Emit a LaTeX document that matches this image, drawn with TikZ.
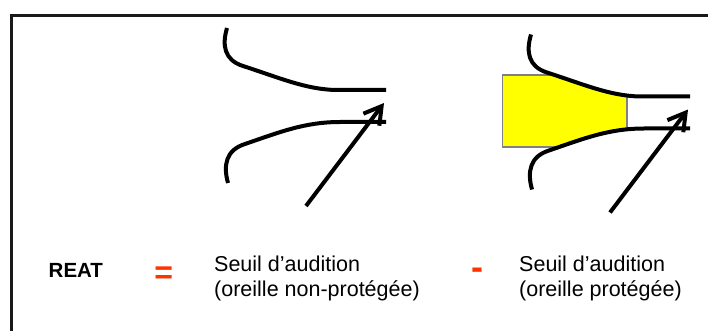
\documentclass[tikz,border=0pt]{standalone}
\usepackage{fontspec}
\setmainfont{Liberation Sans}
\usetikzlibrary{arrows.meta}
\definecolor{signred}{HTML}{FF3300}
\definecolor{plugyellow}{HTML}{FFFF00}
\begin{document}
\begin{tikzpicture}[x=1pt,y=-1pt,
  earline/.style={line width=4pt,black},
  soundarrow/.style={line width=4pt,black,-{Straight Barb[length=17pt,width=20pt]}},
  frameline/.style={line width=2.5pt,black!90},
  label/.style={inner sep=0pt,font=\fontsize{21.5}{25}\selectfont,align=left,anchor=north west},
  sign/.style={inner sep=0pt,text=signred,anchor=base},
  ear/.pic={
    % ear canal walls
    \draw[earline] (227,28) .. controls (222,45) and (224,60) .. (243,66)
      .. controls (280,78) and (305,89) .. (335,90) -- (386,90);
    \draw[earline] (228,183) .. controls (223,165) and (226,150) .. (245,144)
      .. controls (280,132) and (305,122) .. (340,122) -- (386,122);
    % incoming sound
    \coordinate (-src) at (306,206);
    \coordinate (-tip) at (384,103);
    \draw[soundarrow] (-src) -- (-tip);
  }]
\useasboundingbox (0,0) rectangle (708,331);
\clip (0,0) rectangle (708,331);

% outer frame, running off the right and bottom edges
\draw[frameline] (11.5,345) -- (11.5,15.5) -- (720,15.5);

% earplug filling the protected canal
\begin{scope}[shift={(304,6.5)}]
  \clip (227,28) .. controls (222,45) and (224,60) .. (243,66)
      .. controls (280,78) and (305,89) .. (335,90) -- (386,90)
      -- (386,122) -- (340,122) .. controls (305,122) and (280,132) .. (245,144)
      .. controls (226,150) and (223,165) .. (228,183) -- (150,183) -- (150,28) -- cycle;
  \filldraw[fill=plugyellow,draw=black!50,line width=1.2pt] (198.7,68.5) rectangle (323,140.5);
\end{scope}

\pic (open) at (0,0) {ear};
\pic (plugged) at (304,6.5) {ear};

% equation
\node[inner sep=0pt,anchor=base west,font=\fontsize{20.5}{24}\selectfont\bfseries] (reat) at (48.5,277.5) {REAT};
\node[sign,font=\fontsize{32}{36}\selectfont\bfseries] (eq) at (163.7,283) {=};
\node[label] (open-thr) at (214,255.5) {Seuil d’audition\\(oreille non-protégée)};
\node[sign,font=\fontsize{36}{40}\selectfont\bfseries] (minus) at (477.5,279.5) {-};
\node[label] (plug-thr) at (519,255.5) {Seuil d’audition\\(oreille protégée)};
\end{tikzpicture}
\end{document}
